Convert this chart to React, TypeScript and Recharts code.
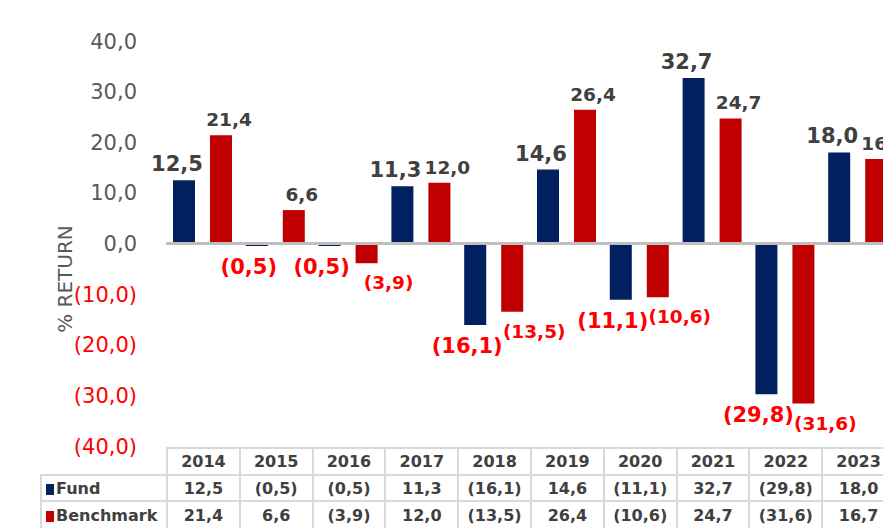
import { BarChart, Bar, XAxis, YAxis, ReferenceLine, LabelList } from "recharts";

const years = ["2014", "2015", "2016", "2017", "2018", "2019", "2020", "2021", "2022", "2023"];
const fund = [12.5, -0.5, -0.5, 11.3, -16.1, 14.6, -11.1, 32.7, -29.8, 18.0];
const benchmark = [21.4, 6.6, -3.9, 12.0, -13.5, 26.4, -10.6, 24.7, -31.6, 16.7];
const yTicks = [-40, -30, -20, -10, 0, 10, 20, 30, 40];

const FUND_COLOR = "#002060";
const BENCH_COLOR = "#c00000";
const FONT = "'DejaVu Sans', Verdana, sans-serif";

const PLOT_LEFT = 158;
const COL_W = 72.8;

const data = years.map((year, i) => ({ year, fund: fund[i], benchmark: benchmark[i] }));

const fmt = (v: number) => {
  const s = Math.abs(v).toFixed(1).replace(".", ",");
  return v < 0 ? `(${s})` : s;
};

// value labels: above positive bars, below negative bars (red)
function makeLabel(size: number, dxPos: number, dxNeg: number) {
  return (props: any) => {
    const { x, y, width, height, value } = props;
    const v = Number(value);
    const top = Math.min(y, y + height);
    const bottom = Math.max(y, y + height);
    const neg = v < 0;
    return (
      <text
        x={x + width / 2 + (neg ? dxNeg : dxPos)}
        y={neg ? bottom + 12 + size * 0.76 : top - 9}
        textAnchor="middle"
        fontSize={size}
        fontWeight="bold"
        fontFamily={FONT}
        fill={neg ? "#ff0000" : "#404040"}
      >
        {fmt(v)}
      </text>
    );
  };
}

function YTick(props: any) {
  const { x, y, payload } = props;
  const v = Number(payload.value);
  return (
    <text x={x} y={y} dy="0.36em" textAnchor="end" fontSize={21} fontFamily={FONT} fill={v < 0 ? "#ff0000" : "#595959"}>
      {fmt(v)}
    </text>
  );
}

const cell: React.CSSProperties = {
  border: "2px solid #d9d9d9",
  textAlign: "center",
  padding: 0,
  whiteSpace: "nowrap",
  overflow: "hidden",
};

export default function App() {
  return (
    <div
      style={{
        position: "relative",
        width: 883,
        height: 520,
        overflow: "hidden",
        margin: "-1px 0 0 -1px",
        borderLeft: "1px solid #d9d9d9",
        borderTop: "1px solid #d9d9d9",
        fontFamily: FONT,
        background: "#fff",
      }}
    >
      <BarChart
        width={900}
        height={462}
        data={data}
        margin={{ top: 33, right: 14, bottom: 24, left: 0 }}
        barSize={22}
        barGap={15}
      >
        <XAxis dataKey="year" hide />
        <YAxis
          domain={[-40, 40]}
          ticks={yTicks}
          width={PLOT_LEFT}
          axisLine={false}
          tickLine={false}
          tickSize={0}
          tickMargin={29}
          tick={<YTick />}
          interval={0}
        />
        <Bar dataKey="fund" fill={FUND_COLOR} isAnimationActive={false}>
          <LabelList dataKey="fund" content={makeLabel(21, -7, -8)} />
        </Bar>
        <Bar dataKey="benchmark" fill={BENCH_COLOR} isAnimationActive={false}>
          <LabelList dataKey="benchmark" content={makeLabel(18.5, 8, 22)} />
        </Bar>
        <ReferenceLine y={0} stroke="#bfbfbf" strokeWidth={3} />
      </BarChart>

      <div
        style={{
          position: "absolute",
          left: 57,
          top: 271,
          transform: "translate(-50%, -50%) rotate(-90deg)",
          whiteSpace: "nowrap",
          fontSize: 20,
          color: "#595959",
        }}
      >
        % RETURN
      </div>

      <table
        style={{
          position: "absolute",
          left: 32,
          top: 439,
          borderCollapse: "collapse",
          tableLayout: "fixed",
          width: PLOT_LEFT - 32 + COL_W * years.length,
          fontSize: 16,
          fontWeight: "bold",
          color: "#404040",
        }}
      >
        <colgroup>
          <col style={{ width: PLOT_LEFT - 32 }} />
          {years.map((y) => (
            <col key={y} style={{ width: COL_W }} />
          ))}
        </colgroup>
        <tbody>
          <tr style={{ height: 27 }}>
            <td style={{ padding: 0, border: "none" }} />
            {years.map((y) => (
              <td key={y} style={cell}>{y}</td>
            ))}
          </tr>
          {[
            { name: "Fund", color: FUND_COLOR, values: fund, h: 26 },
            { name: "Benchmark", color: BENCH_COLOR, values: benchmark, h: 28 },
          ].map((row) => (
            <tr key={row.name} style={{ height: row.h }}>
              <td style={{ ...cell, textAlign: "left", paddingLeft: 4 }}>
                <span
                  style={{
                    display: "inline-block",
                    width: 8,
                    height: 11,
                    background: row.color,
                    marginRight: 2,
                    verticalAlign: "-1px",
                  }}
                />
                {row.name}
              </td>
              {row.values.map((v, i) => (
                <td key={i} style={cell}>{fmt(v)}</td>
              ))}
            </tr>
          ))}
        </tbody>
      </table>
    </div>
  );
}
